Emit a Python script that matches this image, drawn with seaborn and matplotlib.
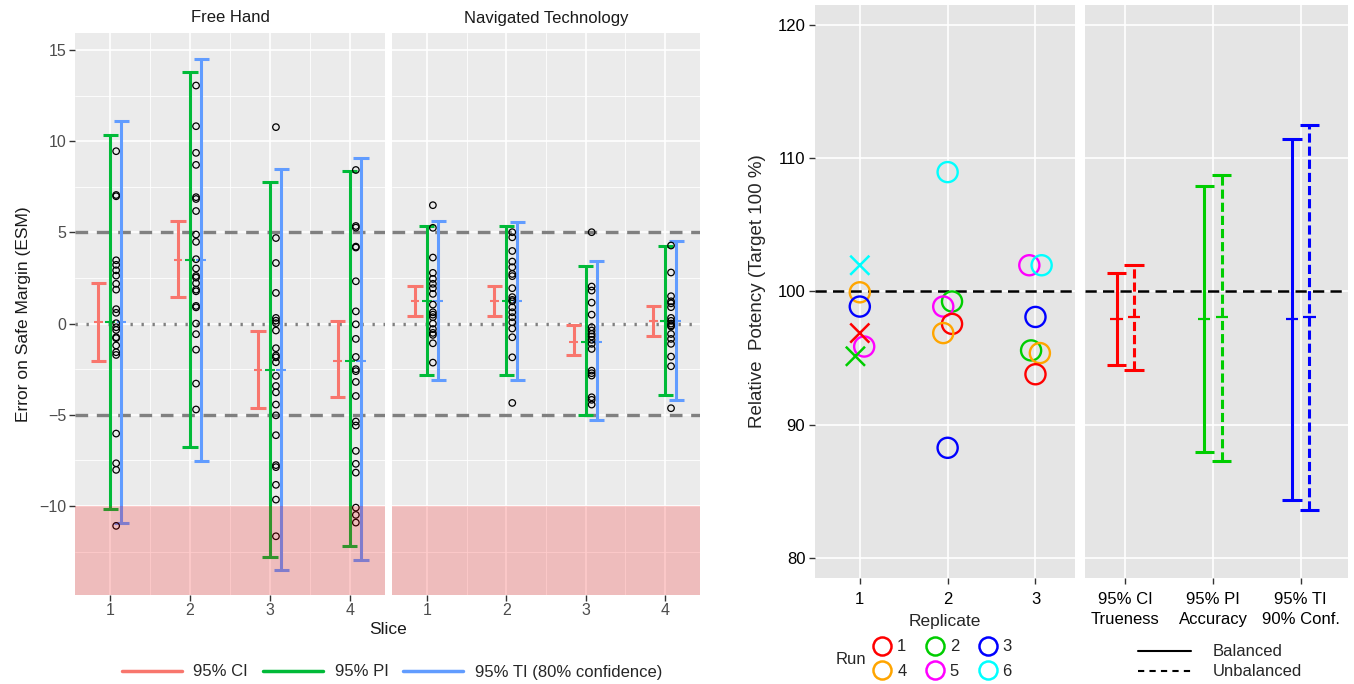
import numpy as np
import pandas as pd
import matplotlib
matplotlib.use("Agg")
import matplotlib.pyplot as plt
from matplotlib.lines import Line2D
from matplotlib.ticker import MultipleLocator
import seaborn as sns

sns.set_theme(style="darkgrid")
plt.rcParams['font.family'] = ['Liberation Sans', 'DejaVu Sans']

# ---------------- data: left chart (ESM by slice) ----------------
slices = [1, 2, 3, 4]

fh_mean = [0.09, 3.47, -2.56, -2.03]
fh_ci_low = [-2.03, 1.43, -4.61, -4.04]
fh_ci_high = [2.21, 5.61, -0.42, 0.16]
fh_pi_low = [-10.16, -6.74, -12.79, -12.19]
fh_pi_high = [10.36, 13.78, 7.75, 8.35]
fh_ti_low = [-10.91, -7.51, -13.50, -12.95]
fh_ti_high = [11.11, 14.51, 8.50, 9.08]

nt_mean = [1.22, 1.22, -0.99, 0.13]
nt_ci_low = [0.44, 0.44, -1.72, -0.66]
nt_ci_high = [2.08, 2.08, -0.07, 0.99]
nt_pi_low = [-2.81, -2.81, -5.01, -3.91]
nt_pi_high = [5.37, 5.34, 3.18, 4.28]
nt_ti_low = [-3.09, -3.09, -5.26, -4.17]
nt_ti_high = [5.61, 5.59, 3.45, 4.53]

fh_points = [
    [9.45, 7.05, 6.98, 3.47, 3.22, 2.92, 2.63, 2.18, 1.86, 0.79, 0.59, 0.02,
     -0.2, -0.35, -0.75, -0.8, -1.2, -1.57, -1.72, -6.03, -7.66, -8.02, -11.09],
    [13.05, 10.82, 9.36, 8.7, 6.93, 6.83, 6.17, 4.88, 4.48, 3.53, 3.02, 2.61,
     2.52, 2.21, 1.86, 1.77, 0.97, 0.89, 0.0, -0.58, -1.43, -3.29, -4.71],
    [10.77, 4.69, 3.32, 1.68, 0.31, 0.16, 0.02, -0.38, -1.35, -1.75, -1.85,
     -2.12, -2.87, -3.42, -3.77, -4.44, -5.03, -6.12, -7.76, -7.87, -8.84,
     -9.65, -11.66],
    [8.42, 5.35, 5.26, 4.22, 4.17, 2.32, 0.67, -0.04, -0.84, -1.83, -2.5,
     -2.61, -3.2, -3.97, -5.37, -5.59, -6.98, -7.69, -8.17, -10.09, -10.49,
     -10.91],
]
nt_points = [
    [6.49, 5.25, 3.62, 2.78, 2.45, 2.18, 1.94, 1.63, 1.04, 0.62, 0.49, 0.35,
     0.0, -0.3, -0.51, -0.62, -1.08, -2.14],
    [5.01, 4.73, 3.98, 3.4, 3.09, 2.72, 2.6, 1.94, 1.45, 1.3, 1.22, 0.89, 0.62,
     0.35, 0.07, -0.27, -0.75, -1.85, -4.35],
    [5.01, 2.03, 1.81, 1.15, 0.49, -0.2, -0.38, -0.57, -0.71, -0.89, -1.11,
     -1.39, -2.58, -2.72, -2.85, -4.04, -4.18, -4.44],
    [4.28, 2.8, 1.5, 1.22, 1.11, 0.9, 0.31, 0.15, 0.0, -0.1, -0.16, -0.57,
     -0.84, -1.11, -1.81, -2.34, -4.64],
]

# ---------------- data: right chart (relative potency) ----------------
replicate = [1, 1, 1, 1, 1, 1, 2, 2, 2, 2, 2, 2, 3, 3, 3, 3, 3, 3]
run = [6, 4, 3, 1, 5, 2, 6, 2, 5, 1, 4, 3, 5, 6, 3, 2, 4, 1]
potency = [101.97, 99.94, 98.87, 96.88, 95.87, 95.14,
           108.96, 99.25, 98.87, 97.57, 96.88, 88.27,
           101.97, 101.97, 98.09, 95.58, 95.38, 93.79]
is_cross = [True, False, False, True, False, True,
            False, False, False, False, False, False,
            False, False, False, False, False, False]
jitter = [0, 0, 0, 0, 0.05, -0.05, 0, 0.05, -0.05, 0.05, -0.05, 0,
          -0.07, 0.07, 0, -0.05, 0.05, 0]

interval_labels = ["95% CI\nTrueness", "95% PI\nAccuracy", "95% TI\n90% Conf."]
bal_mean = [97.93, 97.93, 97.93]
bal_low = [94.45, 87.93, 84.37]
bal_high = [101.41, 107.93, 111.48]
unbal_mean = [98.08, 98.08, 98.08]
unbal_low = [94.14, 87.31, 83.61]
unbal_high = [102.02, 108.72, 112.53]

# ---------------- styles ----------------
W, H = 1354, 684
CI_COL, PI_COL, TI_COL = "#F8766D", "#00BA38", "#619CFF"
run_colors = {1: "#FF0000", 2: "#00CD00", 3: "#0000FF",
              4: "#FFA500", 5: "#FF00FF", 6: "#00FFFF"}
int_colors = ["#FF0000", "#00CD00", "#0000FF"]


def rect(x0, y0, x1, y1):
    return [x0 / W, 1 - y1 / H, (x1 - x0) / W, (y1 - y0) / H]


def interval(ax, x, lo, hi, mid, color, cap, tick, ls="-", lw=2.2, tlw=1.5):
    ax.vlines(x, lo, hi, colors=color, linestyles=ls, lw=lw, zorder=3)
    ax.hlines([lo, hi], x - cap, x + cap, colors=color, lw=lw, zorder=3)
    ax.hlines(mid, x - tick, x + tick, colors=color, lw=tlw, zorder=3)


def style_axes(ax, bg, minor=True):
    ax.set_facecolor(bg)
    for s in ax.spines.values():
        s.set_visible(False)
    ax.grid(True, which="major", color="white", lw=1.2)
    if minor:
        ax.grid(True, which="minor", color="white", lw=0.6)
    ax.tick_params(which="major", length=4, width=1, color="#333333",
                   direction="out", bottom=True, left=True)
    ax.tick_params(which="minor", length=0)
    ax.set_axisbelow(True)


fig = plt.figure(figsize=(W / 100, H / 100), dpi=100)

# ---------------- left chart ----------------
ax1 = fig.add_axes(rect(75, 33, 385, 595))
ax2 = fig.add_axes(rect(392, 33, 700, 595))

panels = [
    (ax1, fh_mean, fh_ci_low, fh_ci_high, fh_pi_low, fh_pi_high, fh_ti_low, fh_ti_high, fh_points),
    (ax2, nt_mean, nt_ci_low, nt_ci_high, nt_pi_low, nt_pi_high, nt_ti_low, nt_ti_high, nt_points),
]
for ax, mean, cil, cih, pil, pih, til, tih, pts in panels:
    style_axes(ax, "#EBEBEB")
    for i, s in enumerate(slices):
        interval(ax, s - 0.15, cil[i], cih[i], mean[i], CI_COL, 0.095, 0.055)
        interval(ax, s, pil[i], pih[i], mean[i], PI_COL, 0.095, 0.06)
        interval(ax, s + 0.14, til[i], tih[i], mean[i], TI_COL, 0.095, 0.06)
    df = pd.DataFrame({
        "x": np.concatenate([[s + 0.075] * len(p) for s, p in zip(slices, pts)]),
        "y": np.concatenate(pts),
    })
    sns.scatterplot(data=df, x="x", y="y", ax=ax, s=22, zorder=4, legend=False)
    coll = ax.collections[-1]
    coll.set_facecolor("none")
    coll.set_edgecolor("black")
    coll.set_linewidth(0.9)

    ax.axhline(5, color="#808080", lw=2.4, ls=(0, (3.8, 2.6)), zorder=2)
    ax.axhline(-5, color="#808080", lw=2.4, ls=(0, (3.8, 2.6)), zorder=2)
    ax.axhline(0, color="#808080", lw=2.4, ls=(0, (0.7, 2.6)), zorder=2)
    ax.axhspan(-30, -10, color="#FF0000", alpha=0.2, lw=0, zorder=6)

    ax.set_xlim(0.56, 4.44)
    ax.set_ylim(-14.88, 15.93)
    ax.xaxis.set_major_locator(MultipleLocator(1))
    ax.xaxis.set_minor_locator(MultipleLocator(0.5))
    ax.yaxis.set_major_locator(MultipleLocator(5))
    ax.yaxis.set_minor_locator(MultipleLocator(2.5))
    ax.set_xlabel("")
    ax.set_ylabel("")
    ax.tick_params(labelsize=11.5, labelcolor="#4D4D4D", pad=2)

ax2.tick_params(labelleft=False, left=False)
ax1.set_ylabel("Error on Safe Margin (ESM)", fontsize=12.5, color="#1A1A1A", labelpad=6)
fig.text(230 / W, 1 - 18 / H, "Free Hand", ha="center", va="center", fontsize=12, color="#1A1A1A")
fig.text(546 / W, 1 - 18 / H, "Navigated Technology", ha="center", va="center", fontsize=12, color="#1A1A1A")
fig.text(388 / W, 1 - 630 / H, "Slice", ha="center", va="center", fontsize=12.5, color="#1A1A1A")

left_handles = [Line2D([], [], color=c, lw=2.5) for c in (CI_COL, PI_COL, TI_COL)]
fig.legend(left_handles, ["95% CI", "95% PI", "95% TI (80% confidence)"],
           loc="center", bbox_to_anchor=(392 / W, 1 - 672 / H), ncol=3,
           frameon=False, fontsize=12, handlelength=3.6, handletextpad=0.7,
           columnspacing=0.9)

# ---------------- right chart ----------------
ax3 = fig.add_axes(rect(815, 5, 1075, 578))
ax4 = fig.add_axes(rect(1085, 5, 1348, 578))

for ax in (ax3, ax4):
    style_axes(ax, "#E5E5E5", minor=False)
    ax.set_ylim(78.5, 121.5)
    ax.yaxis.set_major_locator(MultipleLocator(10))
    ax.axhline(100, color="black", lw=1.8, ls=(0, (4.5, 2.5)), zorder=2)
    ax.tick_params(labelsize=12, labelcolor="black", pad=3)
    ax.tick_params(axis="x", pad=6)

pdf = pd.DataFrame({"x": np.array(replicate) + np.array(jitter), "y": potency,
                    "run": run, "cross": is_cross})
circ = pdf[~pdf["cross"]]
sns.scatterplot(data=circ, x="x", y="y", ax=ax3, s=210, zorder=4, legend=False)
c = ax3.collections[-1]
c.set_facecolor("none")
c.set_edgecolor([run_colors[r] for r in circ["run"]])
c.set_linewidth(1.7)
crs = pdf[pdf["cross"]]
ax3.scatter(crs["x"], crs["y"], marker="x", s=190, lw=1.8,
            c=[run_colors[r] for r in crs["run"]], zorder=4)

ax3.set_xlim(0.49, 3.45)
ax3.set_xticks([1, 2, 3])
ax3.set_xlabel("Replicate", fontsize=12.5, labelpad=5)
ax3.set_ylabel("Relative  Potency (Target 100 %)", fontsize=13.5, labelpad=8)

xs = np.arange(1, 4)
for i, x in enumerate(xs):
    interval(ax4, x - 0.1, bal_low[i], bal_high[i], bal_mean[i], int_colors[i],
             0.11, 0.07, ls="-", lw=2.2, tlw=1.6)
    interval(ax4, x + 0.1, unbal_low[i], unbal_high[i], unbal_mean[i], int_colors[i],
             0.11, 0.07, ls=(0, (3, 1.3)), lw=2.2, tlw=1.6)
ax4.set_xlim(0.54, 3.54)
ax4.set_xticks(xs)
ax4.set_xticklabels(interval_labels, multialignment="center", linespacing=1.45)
ax4.tick_params(labelleft=False, left=False)
ax4.set_xlabel("")
ax4.set_ylabel("")

order = [1, 4, 2, 5, 3, 6]
run_handles = [Line2D([], [], ls="none", marker="o", ms=13, mfc="none",
                      mec=run_colors[r], mew=1.8) for r in order]
fig.legend(run_handles, [str(r) for r in order], loc="center",
           bbox_to_anchor=(942 / W, 1 - 659 / H), ncol=3, frameon=False,
           fontsize=12, handletextpad=0.3, columnspacing=1.1,
           labelspacing=0.55, handlelength=1.2)
fig.text(851 / W, 1 - 660 / H, "Run", ha="center", va="center", fontsize=12)

lt_handles = [Line2D([], [], color="black", lw=1.5),
              Line2D([], [], color="black", lw=1.5, ls=(0, (3, 2.5)))]
fig.legend(lt_handles, ["Balanced", "Unbalanced"], loc="center",
           bbox_to_anchor=(1220 / W, 1 - 662 / H), ncol=1, frameon=False,
           fontsize=12, handlelength=3.2, handletextpad=1.3, labelspacing=0.3)

fig.savefig("out.png", dpi=100)
